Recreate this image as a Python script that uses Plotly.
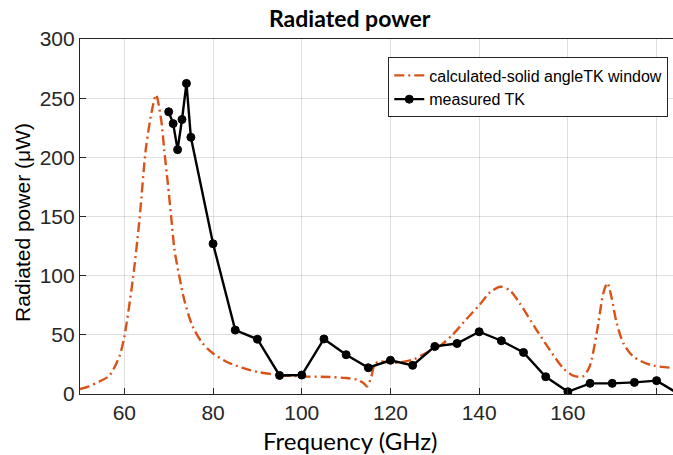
import plotly.graph_objects as go

# Calculated curve
calc_freq = [50, 52, 54.4, 56.6, 58.9, 60, 61.9, 63.4, 64.9, 66.4, 67.15, 68.3, 69.0, 69.8,
             70.55, 71.3, 72.4, 73.5, 75.4, 77.6, 79.9, 82.9, 86.7, 90.5, 94.6, 100, 106.2,
             110, 112.6, 113.9, 114.7, 115.7, 116.4, 117.5, 120.5, 125, 128, 131, 134, 137,
             140.1, 142.4, 144.8, 146.9, 149.1, 152.9, 155.9, 158.9, 161.2, 163.4, 164.9,
             166.5, 168, 168.9, 169.8, 171, 172.5, 174.7, 178.5, 183.7]
calc_power = [4.2, 6.5, 10.6, 15.5, 32, 48.6, 96.5, 147, 209, 243, 252.8, 231.7, 206, 178,
              150, 122, 99.3, 79.6, 57, 43, 34.6, 27.5, 22, 18.3, 16.3, 14.9, 14.4,
              13.5, 12, 9.3, 6.4, 14.9, 24.7, 27.5, 26.2, 29, 34.6, 40.2, 50, 62.8,
              75.4, 85.8, 90.6, 87.5, 76.9, 54.3, 37.4, 22, 15.5, 14.9, 23.3,
              51.5, 85.3, 93.7, 82.4, 60, 43, 31.8, 24.7, 22]

# Measured TK
meas_freq = [70, 71, 72, 73, 74, 75, 80, 85, 90, 95, 100, 105, 110, 115, 120, 125, 130,
             135, 140, 145, 150, 155, 160, 165, 170, 175, 180, 185]
meas_power = [238.5, 228.5, 206.5, 232, 262.5, 217, 127, 54, 46.3, 15.7, 16, 46.5, 33.2,
              22.2, 28.5, 24.2, 40.2, 42.7, 52.6, 45, 35.1, 14.6, 1.9, 9, 9, 9.8, 11.3, 0]

x_ticks = [60, 80, 100, 120, 140, 160, 180]
y_ticks = [0, 50, 100, 150, 200, 250, 300]

ORANGE = "#D95319"
DARK = "#262626"
TICKFONT = dict(family="Liberation Sans, Arial", size=21, color=DARK)

fig = go.Figure()
fig.add_trace(go.Scatter(
    x=calc_freq, y=calc_power, mode="lines", name="calculated-solid angleTK window",
    line=dict(color=ORANGE, width=2.4, dash="10px,4px,2px,4px", shape="spline", smoothing=0.8),
))
fig.add_trace(go.Scatter(
    x=meas_freq, y=meas_power, mode="lines+markers", name="measured TK",
    line=dict(color="black", width=2.4),
    marker=dict(symbol="circle", size=8, color="black", line=dict(color="black", width=1)),
    cliponaxis=True,
))

axis_common = dict(showline=True, linecolor=DARK, linewidth=1.2, ticks="inside", ticklen=6,
                   tickcolor=DARK, showgrid=True, gridcolor="rgba(38,38,38,0.14)",
                   gridwidth=1, zeroline=False, tickfont=TICKFONT)

fig.update_layout(
    width=673, height=455,
    margin=dict(l=80, r=0, t=39, b=61),
    paper_bgcolor="white", plot_bgcolor="white",
    showlegend=True,
    legend=dict(x=0.992, y=0.948, xanchor="right", yanchor="top",
                bordercolor=DARK, borderwidth=1, bgcolor="white",
                font=dict(family="Liberation Sans, Arial", size=16, color="black"),
                itemwidth=30, tracegroupgap=0),
    xaxis=dict(range=[50, 183.7], tickvals=x_ticks, mirror=True, **axis_common),
    yaxis=dict(range=[0, 300], tickvals=y_ticks, mirror=False, **axis_common),
    annotations=[
        dict(text="<b>Radiated power</b>", xref="paper", yref="paper", x=0.455, y=1.059,
             xanchor="center", yanchor="middle", showarrow=False,
             font=dict(family="Lato, Open Sans", size=23, color="black")),
        dict(text="Frequency (GHz)", xref="paper", yref="paper", x=0.455, y=-0.131,
             xanchor="center", yanchor="middle", showarrow=False,
             font=dict(family="Lato, Open Sans", size=24, color="black")),
        dict(text="Radiated power (μW)", xref="paper", yref="paper", x=-0.096, y=0.482,
             xanchor="center", yanchor="middle", showarrow=False, textangle=-90,
             font=dict(family="Liberation Sans, Arial", size=21, color="black")),
    ],
)

fig.write_html("out.html")
